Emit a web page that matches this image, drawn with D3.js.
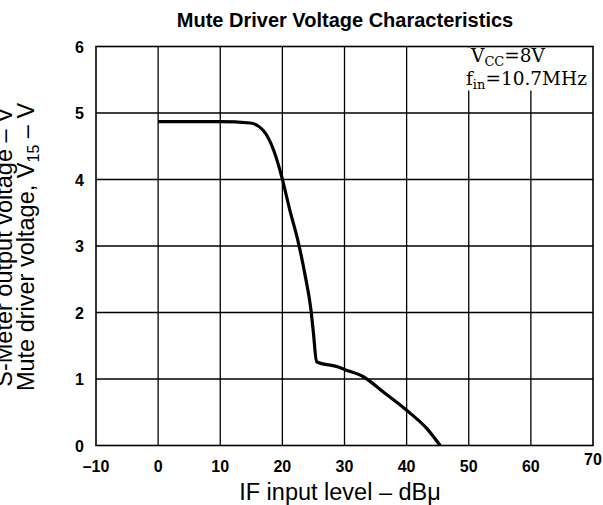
<!DOCTYPE html>
<html><head><meta charset="utf-8">
<script src="https://cdn.jsdelivr.net/npm/d3@7"></script>
<style>body{margin:0;background:#fff}svg{display:block}</style>
</head><body>
<svg id="c" width="603" height="505"></svg>
<script>
const xTicks = [-10,0,10,20,30,40,50,60,70];
const yTicks = [0,1,2,3,4,5,6];
const inputLevel = [0,10,14.8,16.9,18.6,19.9,21.2,22.6,23.7,24.6,25.0,25.5,29.0,30.1,33.1,36.3,40,43.3,45.4];
const muteVoltage = [4.87,4.87,4.85,4.74,4.44,4.04,3.54,3.04,2.54,2.04,1.69,1.26,1.18,1.14,1.03,0.8,0.53,0.25,0.0];

const svg = d3.select("#c");
const x = d3.scaleLinear().domain([-10,70]).range([96,593]);
const y = d3.scaleLinear().domain([0,6]).range([445.5,46.5]);
const black = "#000";

// grid
svg.append("g").selectAll("line").data(xTicks.slice(1,-1)).join("line")
  .attr("x1",d=>x(d)).attr("x2",d=>x(d)).attr("y1",y(0)).attr("y2",y(6))
  .attr("stroke",black).attr("stroke-width",1.3);
svg.append("g").selectAll("line").data(yTicks.slice(1,-1)).join("line")
  .attr("x1",x(-10)).attr("x2",x(70)).attr("y1",d=>y(d)).attr("y2",d=>y(d))
  .attr("stroke",black).attr("stroke-width",1.3);

// annotation box
svg.append("rect").attr("x",465).attr("y",y(6)+1).attr("width",x(70)-466).attr("height",43).attr("fill","#fff");
svg.append("rect").attr("x",x(-10)).attr("y",y(6)).attr("width",x(70)-x(-10)).attr("height",y(0)-y(6))
  .attr("fill","none").attr("stroke",black).attr("stroke-width",1.6);
const serif = "'DejaVu Serif','Liberation Serif',serif";
const a1 = svg.append("text").attr("x",471).attr("y",62).attr("font-family",serif).attr("font-size",18.5);
a1.append("tspan").text("V");
a1.append("tspan").attr("font-size",13).attr("dy",4).text("CC");
a1.append("tspan").attr("dy",-4).text("=8V");
const a2 = svg.append("text").attr("x",466).attr("y",85).attr("font-family",serif).attr("font-size",18.5);
a2.append("tspan").text("f");
a2.append("tspan").attr("font-size",13).attr("dy",4).text("in");
a2.append("tspan").attr("dy",-4).text("=10.7MHz");

// curve
const pts = inputLevel.map((d,i)=>[d,muteVoltage[i]]);
svg.append("path").datum(pts)
  .attr("d", d3.line().x(d=>x(d[0])).y(d=>y(d[1])).curve(d3.curveMonotoneX))
  .attr("fill","none").attr("stroke",black).attr("stroke-width",3.2).attr("stroke-linejoin","round");

// tick labels
const sans = "'Liberation Sans','DejaVu Sans',sans-serif";
svg.append("g").selectAll("text").data(xTicks).join("text")
  .attr("x",d=>x(d)).attr("y",d=>d===70?465:472).attr("text-anchor","middle")
  .attr("font-family",sans).attr("font-weight","bold").attr("font-size",16)
  .text(d=>d<0?"\u2013"+Math.abs(d):d);
svg.append("g").selectAll("text").data(yTicks).join("text")
  .attr("x",84).attr("y",d=>y(d)+6).attr("text-anchor","end")
  .attr("font-family",sans).attr("font-weight","bold").attr("font-size",16)
  .text(d=>d);

// title
svg.append("text").attr("x",345).attr("y",27).attr("text-anchor","middle")
  .attr("font-family",sans).attr("font-weight","bold").attr("font-size",20)
  .text("Mute Driver Voltage Characteristics");

// x label
svg.append("text").attr("x",340).attr("y",500).attr("text-anchor","middle")
  .attr("font-family",sans).attr("font-size",23.5)
  .text("IF input level \u2013 dB\u03bc");

// y labels
const yl = svg.append("g").attr("transform","translate(0,247) rotate(-90)")
  .attr("font-family",sans).attr("font-size",23.5).attr("text-anchor","middle");
yl.append("text").attr("x",0).attr("y",12).text("S-Meter output voltage \u2013 V");
const l2 = yl.append("text").attr("x",0).attr("y",34);
l2.append("tspan").text("Mute driver voltage, V");
l2.append("tspan").attr("font-size",16).attr("dy",5).text("15");
l2.append("tspan").attr("dy",-5).text(" \u2013 V");
</script>
</body></html>
